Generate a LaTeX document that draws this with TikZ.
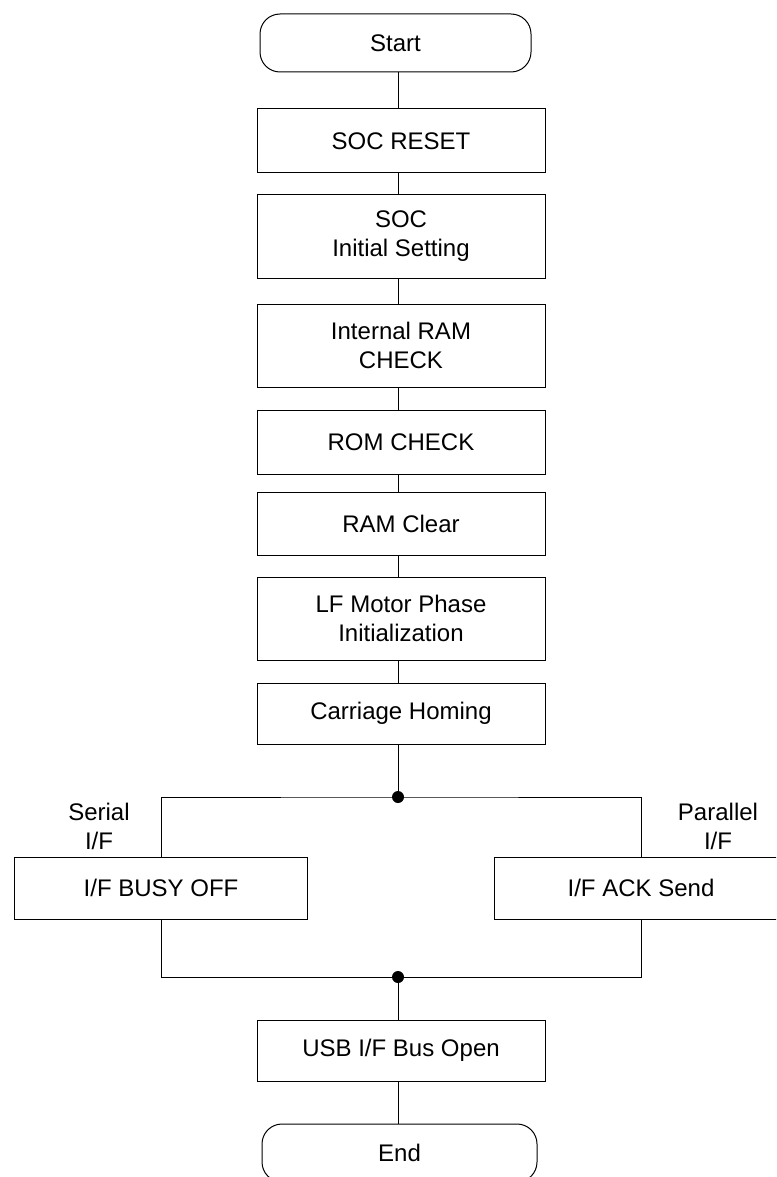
\documentclass[tikz,border=0pt]{standalone}
\usepackage{fontspec}
\setmainfont{Liberation Sans}
\begin{document}
\begin{tikzpicture}[x=1pt,y=-1pt,
  txt/.style={font=\fontsize{24}{29}\selectfont},
  box/.style={draw, line width=1pt, minimum width=288pt, inner sep=0pt, align=center, txt},
  sidebox/.style={box, minimum width=293pt, minimum height=62pt},
  term/.style={box, rounded corners=20pt, minimum height=58pt},
  lbl/.style={align=center, inner sep=0pt, txt},
  ln/.style={line width=1pt},
  jdot/.style={circle, fill, inner sep=0pt, minimum size=12pt}]
\useasboundingbox (0,0) rectangle (776,1177);
\clip (0,0) rectangle (776,1177);
\coordinate (sp) at (398,0);
\node[term, minimum width=271pt] (start) at (395.5,43) {Start};
\node[box, minimum height=64pt] (reset) at (401,141) {SOC RESET};
\node[box, minimum height=83pt] (init) at (401,236.5) {SOC\\Initial Setting};
\node[box, minimum height=83pt] (iram) at (401,345.5) {Internal RAM\\CHECK};
\node[box, minimum height=64pt] (rom) at (401,442) {ROM CHECK};
\node[box, minimum height=63pt] (clr) at (401,523.5) {RAM Clear};
\node[box, minimum height=83pt] (lf) at (401,618.5) {LF Motor Phase\\Initialization};
\node[box, minimum height=61pt] (home) at (401,713.5) {Carriage Homing};
\node[sidebox] (busy) at (161,888) {I/F BUSY OFF};
\node[sidebox] (ack) at (641,888) {I/F ACK Send};
\node[lbl] (serial) at (99,826) {Serial\\I/F};
\node[lbl] (par) at (718,826) {Parallel\\I/F};
\node[box, minimum height=61pt] (usb) at (401,1050.5) {USB I/F Bus Open};
\node[term, minimum width=275pt] (end) at (399.5,1153) {End};
\coordinate (d1) at (398,797);
\coordinate (d2) at (398,977);
\draw[ln] (start.south -| sp) -- (reset.north -| sp);
\draw[ln] (reset.south -| sp) -- (init.north -| sp);
\draw[ln] (init.south -| sp) -- (iram.north -| sp);
\draw[ln] (iram.south -| sp) -- (rom.north -| sp);
\draw[ln] (rom.south -| sp) -- (clr.north -| sp);
\draw[ln] (clr.south -| sp) -- (lf.north -| sp);
\draw[ln] (lf.south -| sp) -- (home.north -| sp);
\draw[ln] (home.south -| sp) -- (d1);
\draw[ln] (busy.north) |- (d1) -| (ack.north);
\draw[ln] (busy.south) |- (d2) -| (ack.south);
\draw[ln] (d2) -- (usb.north -| sp);
\draw[ln] (usb.south -| sp) -- (end.north -| sp);
\node[jdot] (j1) at (d1) {};
\node[jdot] (j2) at (d2) {};
\end{tikzpicture}
\end{document}
